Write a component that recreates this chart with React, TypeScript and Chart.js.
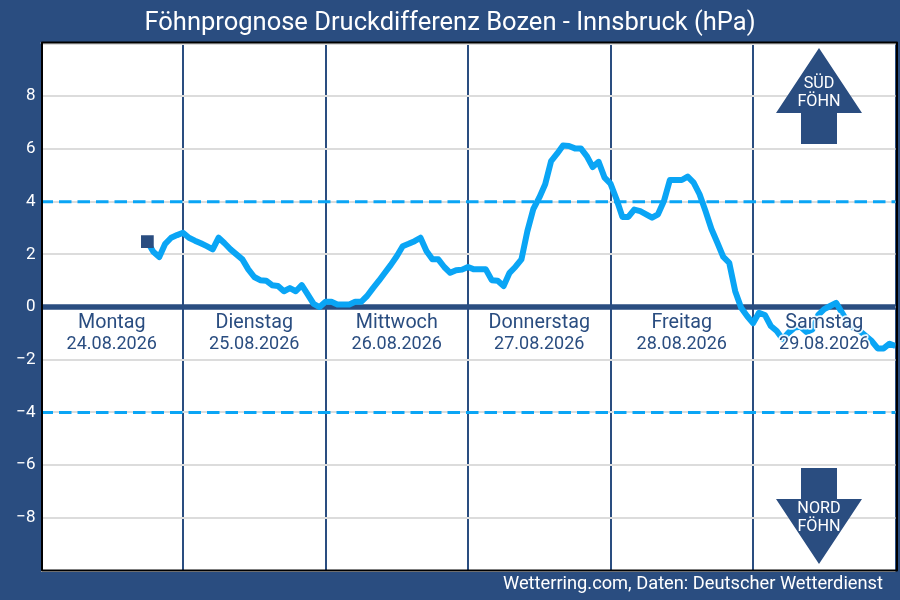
import React, { useEffect, useRef } from "react";
import { Chart, registerables } from "chart.js";

Chart.register(...registerables);

const titleText = "Föhnprognose Druckdifferenz Bozen - Innsbruck (hPa)";
const footerText = "Wetterring.com, Daten: Deutscher Wetterdienst";
const dayNames = ["Montag", "Dienstag", "Mittwoch", "Donnerstag", "Freitag", "Samstag"];
const dayDates = ["24.08.2026", "25.08.2026", "26.08.2026", "27.08.2026", "28.08.2026", "29.08.2026"];
const firstHour = 18;
const pressureDiff = [
  2.48, 2.1, 1.9, 2.4, 2.63, 2.73, 2.82, 2.63, 2.52, 2.42, 2.31, 2.19, 2.63, 2.42, 2.19, 2.0, 1.81, 1.43, 1.14, 1.02,
  1.0, 0.83, 0.8, 0.6, 0.72, 0.6, 0.83, 0.48, 0.12, 0.0, 0.2, 0.2, 0.1, 0.1, 0.1, 0.2, 0.2, 0.42, 0.72, 1.0,
  1.3, 1.6, 1.93, 2.31, 2.4, 2.5, 2.63, 2.13, 1.81, 1.81, 1.52, 1.3, 1.4, 1.42, 1.52, 1.43, 1.43, 1.43, 1.02, 1.0,
  0.8, 1.3, 1.53, 1.81, 2.88, 3.72, 4.15, 4.66, 5.54, 5.82, 6.13, 6.11, 6.02, 6.02, 5.73, 5.31, 5.51, 4.91, 4.68, 4.1,
  3.42, 3.42, 3.7, 3.64, 3.52, 3.39, 3.52, 4.02, 4.82, 4.82, 4.82, 4.95, 4.72, 4.28, 3.64, 2.96, 2.44, 1.9, 1.68, 0.6,
  -0.03, -0.34, -0.61, -0.22, -0.3, -0.72, -0.91, -1.22, -0.97, -0.78, -0.75, -0.95, -0.85, -0.3, -0.08, 0.04, 0.16, -0.22, -0.6, -0.8,
  -0.91, -1.1, -1.29, -1.57, -1.57, -1.39, -1.48,
];
const thresholds = [4, -4];
const zeroLevel = [0];
const hourRange = [0, 144];
const valueRange = [-10, 10];

const NAVY = "#2a4d80";
const BLUE = "#0aa5f5";

function arrow(ctx: CanvasRenderingContext2D, cx: number, tip: number, base: number, end: number) {
  ctx.fillStyle = NAVY;
  ctx.beginPath();
  ctx.moveTo(cx, tip);
  ctx.lineTo(cx + 43, base);
  ctx.lineTo(cx + 18, base);
  ctx.lineTo(cx + 18, end);
  ctx.lineTo(cx - 18, end);
  ctx.lineTo(cx - 18, base);
  ctx.lineTo(cx - 43, base);
  ctx.closePath();
  ctx.fill();
}

const decorPlugin = {
  id: "decor",
  beforeDraw(chart: any) {
    const { ctx, width, height } = chart;
    ctx.save();
    ctx.fillStyle = NAVY;
    ctx.fillRect(0, 0, width, height);
    const a = chart.chartArea;
    ctx.fillStyle = "#ffffff";
    ctx.fillRect(a.left, a.top - 1, a.right - a.left + 1, a.bottom - a.top + 1);
    ctx.restore();
  },
  afterDatasetsDraw(chart: any) {
    const { ctx, chartArea: a, scales } = chart;
    ctx.save();
    ctx.textAlign = "center";
    ctx.textBaseline = "middle";
    ctx.lineJoin = "round";
    dayNames.forEach((name, i) => {
      const x = scales.x.getPixelForValue(i * 24 + 12);
      const lines: [string, number, string][] = [
        [name, 323, "19.7px Roboto"],
        [dayDates[i], 344, "18px Roboto"],
      ];
      lines.forEach(([t, y, f]) => {
        ctx.font = f;
        ctx.strokeStyle = "rgba(255,255,255,0.9)";
        ctx.lineWidth = 3.5;
        ctx.strokeText(t, x, y);
        ctx.fillStyle = NAVY;
        ctx.fillText(t, x, y);
      });
    });

    arrow(ctx, 819, 48, 113, 144);
    arrow(ctx, 819, 564, 499, 468);
    ctx.fillStyle = "#ffffff";
    ctx.font = "16.2px Roboto";
    ctx.fillText("SÜD", 819, 84);
    ctx.fillText("FÖHN", 819, 102);
    ctx.fillText("NORD", 819, 509);
    ctx.fillText("FÖHN", 819, 527);

    ctx.strokeStyle = "#000000";
    ctx.lineWidth = 2;
    ctx.strokeRect(a.left + 1.5, a.top - 1, a.right - a.left, a.bottom - a.top + 1);

    ctx.textAlign = "right";
    ctx.font = "18.25px Roboto";
    ctx.fillStyle = "#ffffff";
    ctx.fillText(footerText, 883, 584.5);
    ctx.restore();
  },
};

export default function App() {
  const ref = useRef<HTMLCanvasElement>(null);
  useEffect(() => {
    document.body.style.margin = "0";
    const chart = new Chart(ref.current!, {
      type: "line",
      plugins: [decorPlugin],
      data: {
        datasets: [
          {
            label: "Druckdifferenz",
            data: pressureDiff.map((y, i) => ({ x: firstHour + i, y })),
            borderColor: BLUE,
            borderWidth: 6,
            pointRadius: 0,
            borderJoinStyle: "round",
            order: 1,
          },
          ...thresholds.map((v) => ({
            label: "Schwelle " + v,
            data: hourRange.map((x) => ({ x, y: v })),
            borderColor: BLUE,
            borderWidth: 3,
            borderDash: [12.5, 6],
            pointRadius: 0,
            order: 3,
          })),
          ...zeroLevel.map((v) => ({
            label: "Null",
            data: hourRange.map((x) => ({ x, y: v })),
            borderColor: NAVY,
            borderWidth: 5.5,
            pointRadius: 0,
            order: 2,
          })),
          {
            label: "Start",
            data: [{ x: firstHour, y: pressureDiff[0] }],
            borderColor: NAVY,
            backgroundColor: NAVY,
            pointStyle: "rect",
            pointRadius: 9,
            pointBorderWidth: 0,
            showLine: false,
            order: 0,
          },
        ] as any,
      },
      options: {
        animation: false,
        responsive: false,
        devicePixelRatio: 1,
        layout: { autoPadding: false, padding: { left: 0, right: 0, top: 0, bottom: 29.4 } },
        plugins: {
          legend: { display: false },
          tooltip: { enabled: false },
          title: {
            display: true,
            text: titleText,
            color: "#ffffff",
            font: { family: "Roboto", size: 25.5, weight: "normal", lineHeight: 1.2 },
            padding: { top: 8, bottom: 4.9 },
          },
        },
        scales: {
          x: {
            type: "linear",
            min: hourRange[0],
            max: hourRange[1],
            ticks: { stepSize: 24, display: false },
            grid: { color: NAVY, lineWidth: 2, drawTicks: false },
            border: { display: false },
          },
          y: {
            min: valueRange[0],
            max: valueRange[1],
            afterFit(s: any) {
              s.width = 40.5;
            },
            ticks: {
              stepSize: 2,
              color: "#ffffff",
              font: { family: "Roboto", size: 17 },
              padding: 5,
              callback: (v: any) =>
                Math.abs(v) === 10 ? "" : v < 0 ? "\u2212" + Math.abs(v) : String(v),
            },
            grid: { color: "#dcdcdc", lineWidth: 2, drawTicks: false },
            border: { display: false },
          },
          y2: {
            type: "linear",
            position: "right",
            min: valueRange[0],
            max: valueRange[1],
            ticks: { display: false },
            grid: { display: false, drawTicks: false },
            border: { display: false },
            afterFit(s: any) {
              s.width = 4.5;
            },
          },
        },
      } as any,
    });
    return () => chart.destroy();
  }, []);
  return (
    <div style={{ width: 900, height: 600 }}>
      <canvas ref={ref} width={900} height={600} style={{ display: "block" }} />
    </div>
  );
}
